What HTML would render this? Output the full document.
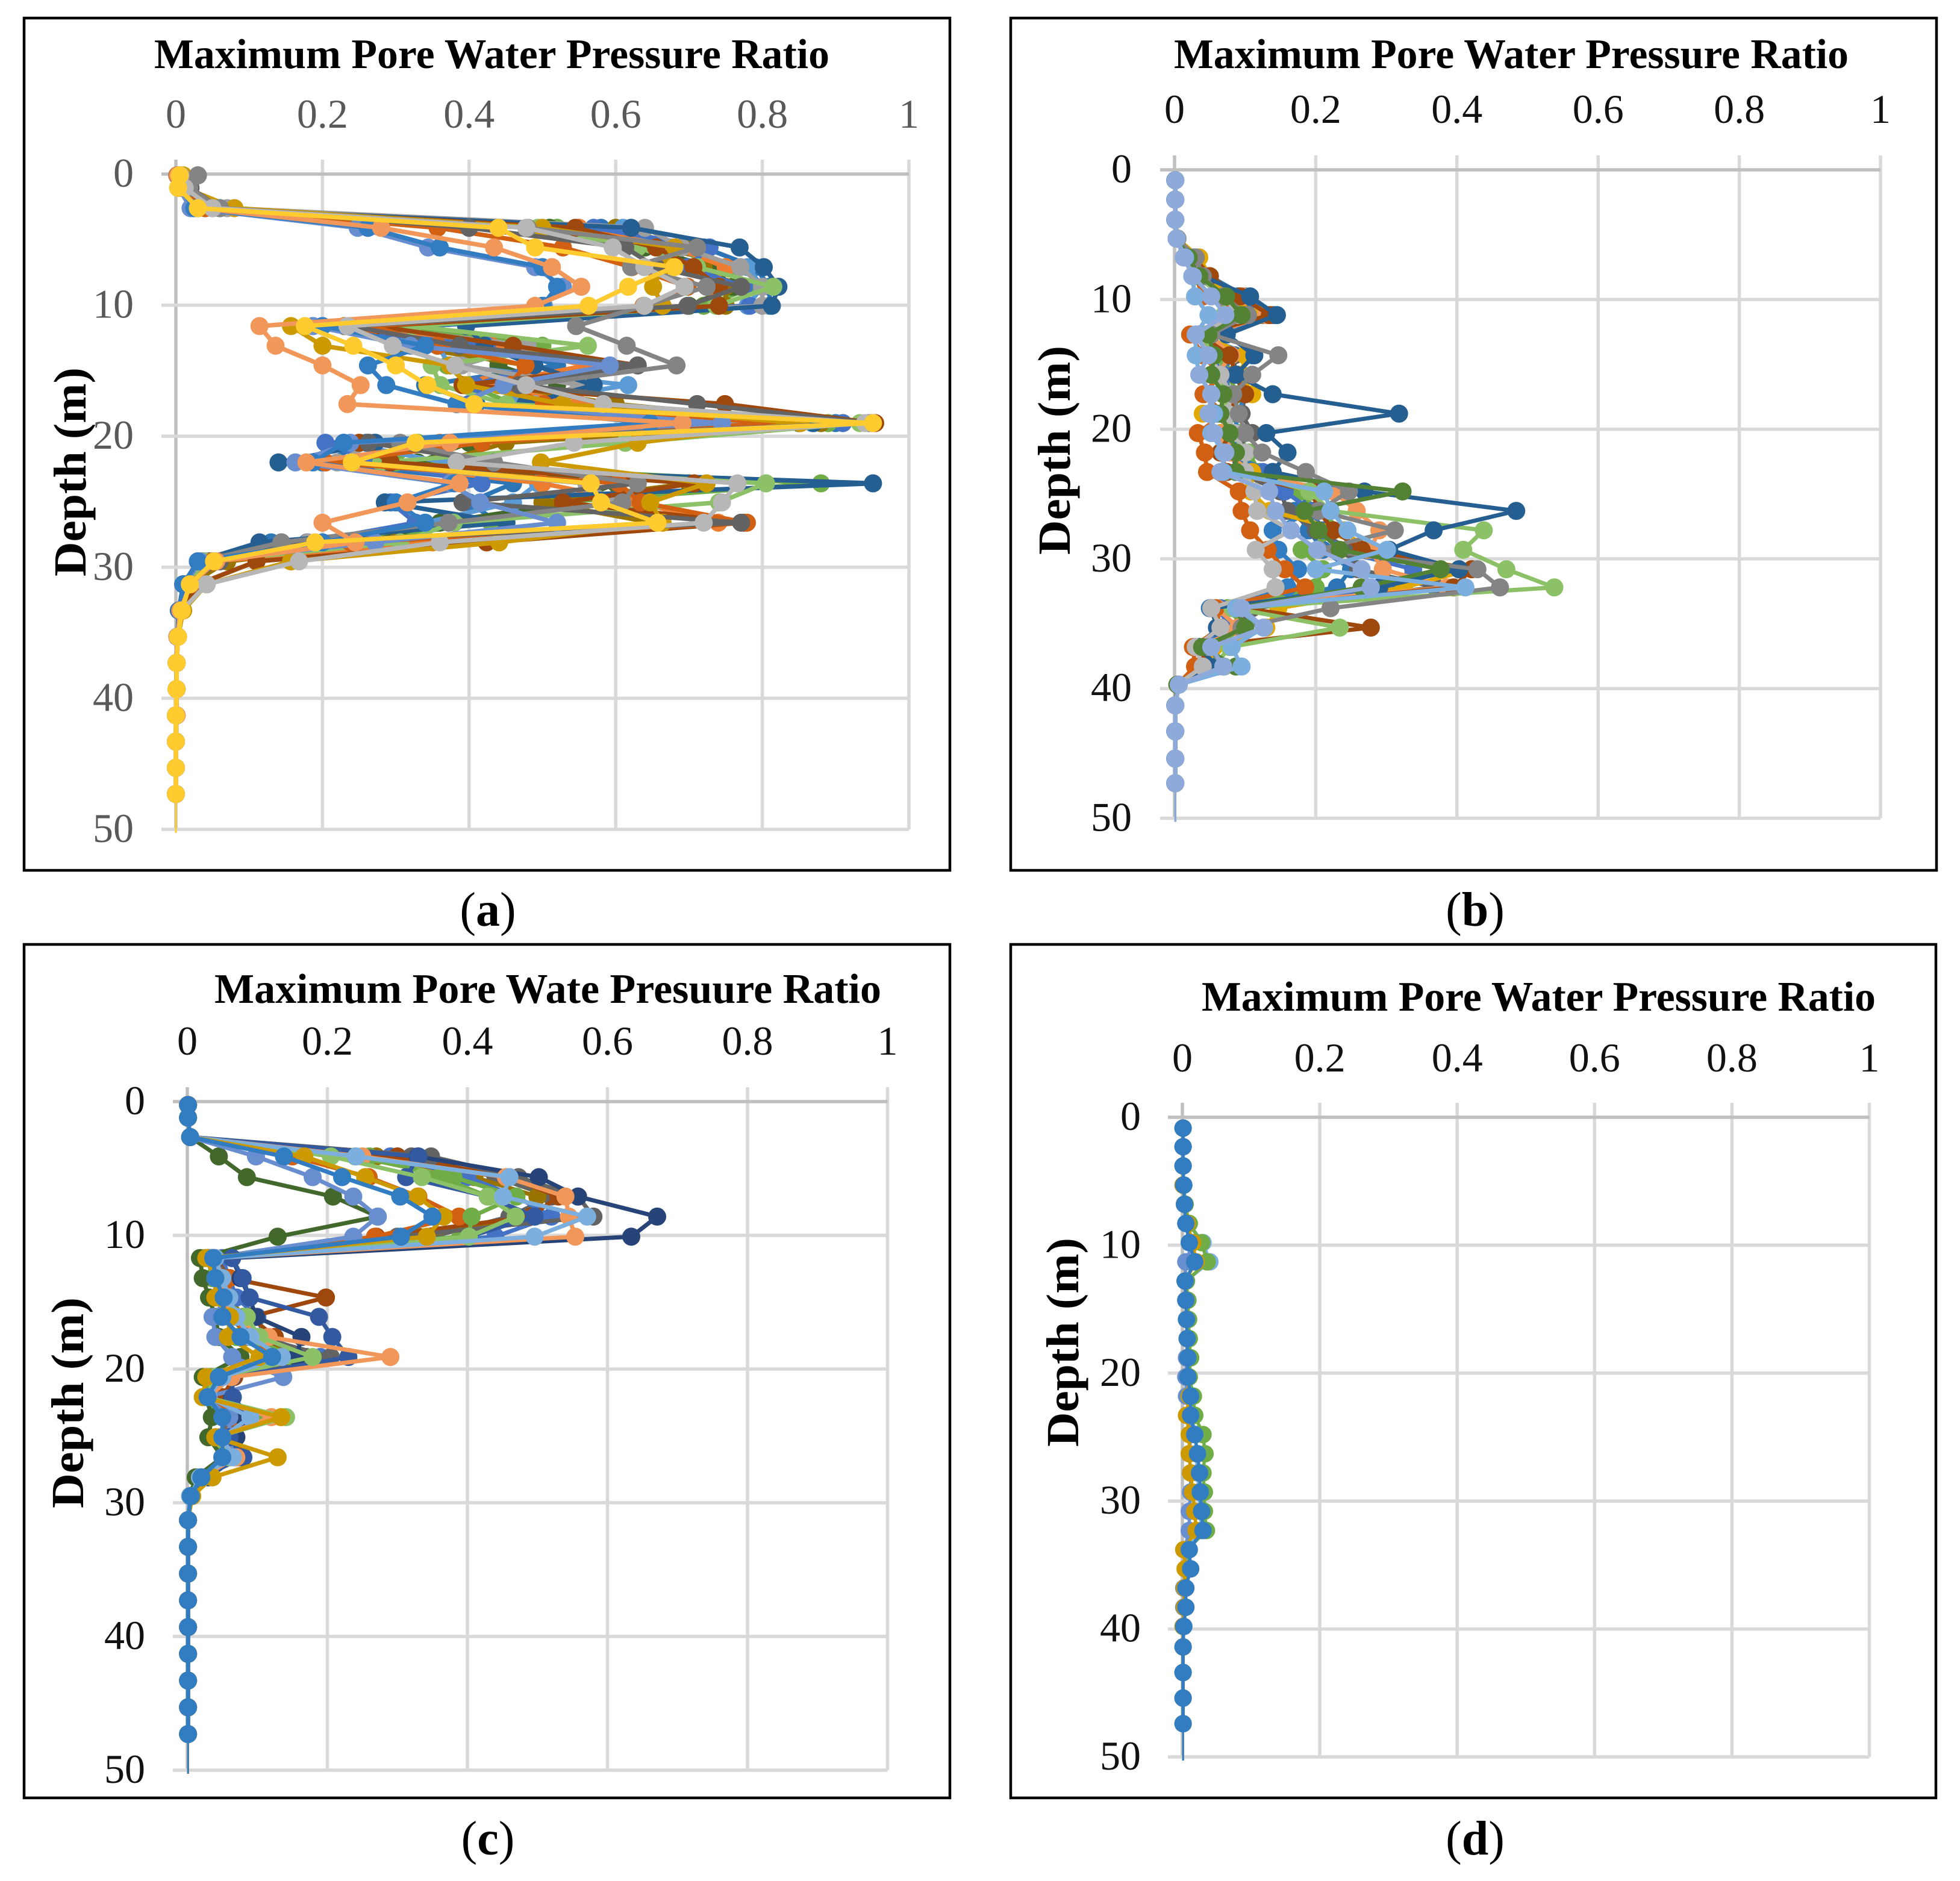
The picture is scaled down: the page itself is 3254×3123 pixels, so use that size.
<!DOCTYPE html>
<html lang="en">
<head>
<meta charset="utf-8">
<title>Maximum Pore Water Pressure Ratio vs Depth</title>
<style>
html,body{margin:0;padding:0;background:#fff}
svg{display:block}
text{font-family:"Liberation Serif",serif}
</style>
</head>
<body>
<svg id="figure" xmlns="http://www.w3.org/2000/svg" width="3254" height="3123" viewBox="0 0 3254 3123">
<rect width="3254" height="3123" fill="#fff"/>
<rect x="40" y="30" width="1537" height="1415" fill="none" stroke="#000" stroke-width="4.5"/>
<rect x="1678" y="30" width="1537" height="1415" fill="none" stroke="#000" stroke-width="4.5"/>
<rect x="40" y="1568" width="1537" height="1417" fill="none" stroke="#000" stroke-width="4.5"/>
<rect x="1678" y="1568" width="1536" height="1417" fill="none" stroke="#000" stroke-width="4.5"/>
<g id="plot-a"></g>
<g id="plot-b"></g>
<g id="plot-c"></g>
<g id="plot-d"></g>
<text x="256" y="113" font-size="70" font-weight="bold" textLength="1121" lengthAdjust="spacingAndGlyphs">Maximum Pore Water Pressure Ratio</text>
<text x="1949" y="113" font-size="70" font-weight="bold" textLength="1120" lengthAdjust="spacingAndGlyphs">Maximum Pore Water Pressure Ratio</text>
<text x="356" y="1665" font-size="70" font-weight="bold" textLength="1107" lengthAdjust="spacingAndGlyphs">Maximum Pore Wate Presuure Ratio</text>
<text x="1995" y="1678" font-size="70" font-weight="bold" textLength="1119" lengthAdjust="spacingAndGlyphs">Maximum Pore Water Pressure Ratio</text>
<text transform="translate(142 957) rotate(-90)" font-size="76" font-weight="bold" textLength="347" lengthAdjust="spacingAndGlyphs">Depth (m)</text>
<text transform="translate(1776 921) rotate(-90)" font-size="76" font-weight="bold" textLength="347" lengthAdjust="spacingAndGlyphs">Depth (m)</text>
<text transform="translate(138 2504) rotate(-90)" font-size="76" font-weight="bold" textLength="350" lengthAdjust="spacingAndGlyphs">Depth (m)</text>
<text transform="translate(1790 2402) rotate(-90)" font-size="76" font-weight="bold" textLength="347" lengthAdjust="spacingAndGlyphs">Depth (m)</text>
<text x="810" y="1537" font-size="80" text-anchor="middle">(<tspan font-weight="bold">a</tspan>)</text>
<text x="2449" y="1537" font-size="80" text-anchor="middle">(<tspan font-weight="bold">b</tspan>)</text>
<text x="810" y="3079" font-size="80" text-anchor="middle">(<tspan font-weight="bold">c</tspan>)</text>
<text x="2449" y="3079" font-size="80" text-anchor="middle">(<tspan font-weight="bold">d</tspan>)</text>
</svg>
<script>
const xTickLabels = [0, 0.2, 0.4, 0.6, 0.8, 1];
const yTickLabels = [0, 10, 20, 30, 40, 50];
const xMax = 1;
const yMax = 50;

/* ---------- Panel (a) ---------- */
const depthsA = [0.1,1.05,2.6,4.1,5.6,7.1,8.6,10.05,11.6,13.1,14.6,16.1,17.55,19,20.5,22,23.6,25.05,26.6,28.1,29.55,31.3,33.3,35.3,37.3,39.3,41.3,43.3,45.3,47.3];
const aSeries01 = [.003,.005,.025,.61,.665,.78,.8,.78,.2,.357,.374,.617,.46,.868,.229,.366,.494,.46,.34,.19,.037,.012,.005,.002,.001,.001,.001,0,0,0];
const aSeries02 = [.002,.004,.04,.55,.68,.75,.73,.74,.27,.43,.56,.42,.55,.82,.36,.25,.5,.63,.74,.35,.05,.02,.006,.002,.001,.001,0,0,0,0];
const aSeries03 = [.002,.004,.05,.57,.728,.698,.775,.783,.187,.424,.489,.408,.4,.91,.204,.272,.417,.293,.327,.179,.033,.012,.005,.002,.001,.001,.001,0,0,0];
const aSeries04 = [.004,.008,.07,.64,.69,.77,.8,.8,.26,.48,.39,.55,.49,.76,.27,.22,.56,.6,.38,.18,.04,.015,.006,.002,.001,.001,.001,0,0,0];
const aSeries05 = [.002,.003,.03,.621,.769,.802,.822,.813,.396,.421,.489,.57,.477,.87,.272,.14,.951,.285,.451,.114,.03,.01,.004,.002,.001,.001,0,0,0,0];
const aSeries06 = [.003,.006,.03,.494,.63,.711,.815,.737,.323,.562,.349,.361,.451,.933,.613,.28,.805,.741,.379,.306,.038,.015,.005,.002,.001,.001,0,0,0,0];
const aSeries07 = [.004,.006,.05,.545,.655,.706,.741,.741,.272,.46,.63,.391,.749,.954,.25,.293,.707,.528,.775,.424,.11,.03,.008,.003,.001,.001,0,0,0,0];
const aSeries08 = [.002,.005,.04,.357,.528,.622,.698,.638,.268,.357,.477,.455,.502,.809,.417,.204,.604,.634,.779,.238,.05,.02,.006,.002,.001,.001,0,0,0,0];
const aSeries09 = [.01,.012,.08,.5,.681,.664,.651,.664,.157,.2,.374,.396,.528,.852,.63,.498,.724,.647,.664,.441,.157,.042,.01,.003,.001,.001,.001,0,0,0];
const aSeries10 = [.03,.02,.06,.4,.613,.655,.771,.698,.238,.387,.63,.468,.711,.95,.263,.434,.63,.391,.771,.144,.06,.015,.006,.002,.001,.001,0,0,0,0];
const aSeries11 = [.03,.018,.06,.48,.711,.621,.724,.639,.546,.615,.683,.477,.583,.945,.306,.434,.63,.609,.372,.144,.033,.012,.005,.002,.001,.001,0,0,0,0];
const aSeries12 = [.003,.004,.02,.248,.344,.49,.528,.502,.187,.32,.592,.447,.383,.745,.238,.163,.374,.415,.52,.272,.033,.012,.005,.002,.001,.001,0,0,0,0];
const aSeries13 = [.004,.006,.025,.262,.36,.5,.52,.5,.2,.34,.262,.287,.383,.647,.229,.187,.38,.3,.34,.2,.03,.01,.005,.002,.001,.001,0,0,0,0];
const aSeries14 = [.003,.005,.03,.28,.434,.513,.553,.49,.114,.136,.2,.252,.234,.691,.374,.178,.387,.316,.2,.245,.055,.02,.006,.002,.001,.001,.001,0,0,0];
const aSeries15 = [.006,.012,.05,.478,.596,.639,.694,.639,.234,.296,.381,.478,.583,.94,.543,.383,.766,.745,.72,.36,.168,.042,.008,.003,.001,.001,0,0,0,0];
const aSeries16 = [.005,.003,.03,.44,.49,.68,.617,.563,.176,.242,.3,.343,.407,.951,.327,.24,.566,.58,.657,.19,.052,.019,.008,.003,.001,.001,0,0,0,0];
const aSeries17 = [.002,.004,.03,.58,.72,.79,.81,.81,.34,.44,.52,.34,.41,.9,.26,.2,.46,.4,.44,.13,.03,.01,.005,.002,.001,.001,.001,0,0,0];
const aSeries18 = [.002,.004,.03,.52,.68,.74,.79,.72,.31,.5,.37,.4,.46,.89,.33,.3,.88,.52,.43,.22,.04,.015,.005,.002,.001,.001,0,0,0,0];
const aSeries19 = [.003,.005,.04,.51,.64,.73,.76,.7,.25,.4,.44,.52,.5,.85,.4,.33,.6,.54,.36,.26,.045,.012,.005,.002,.001,.001,0,0,0,0];
const aSeries20 = [.004,.006,.06,.6,.7,.72,.75,.75,.23,.31,.48,.44,.6,.88,.45,.36,.7,.5,.65,.3,.07,.02,.006,.002,.001,.001,0,0,0,0];

/* ---------- Panel (b) ---------- */
const depthsB = [0.8,2.3,3.85,5.3,6.76,8.2,9.76,11.2,12.7,14.3,15.8,17.3,18.8,20.3,21.8,23.3,24.8,26.3,27.8,29.3,30.8,32.2,33.8,35.3,36.8,38.3,39.7,41.3,43.3,45.4,47.3];
const bSeries01 = [.001,.001,.001,.003,.03,.05,.09,.13,.03,.11,.09,.1,.09,.085,.07,.139,.156,.195,.139,.147,.175,.16,.052,.07,.03,.04,.005,.001,.001,.001,.001];
const bSeries02 = [.001,.001,.001,.003,.032,.05,.07,.1,.03,.05,.07,.08,.06,.08,.07,.125,.156,.195,.21,.23,.338,.3,.065,.075,.035,.05,.005,.001,.001,.001,.001];
const bSeries03 = [.001,.001,.001,.004,.035,.05,.074,.12,.04,.1,.095,.11,.04,.065,.07,.11,.108,.135,.239,.273,.421,.325,.147,.13,.056,.048,.005,.001,.001,.001,.001];
const bSeries04 = [.001,.001,.001,.003,.025,.045,.098,.13,.05,.08,.06,.07,.07,.07,.08,.1,.225,.258,.29,.277,.295,.386,.06,.09,.04,.05,.005,.001,.001,.001,.001];
const bSeries05 = [.001,.001,.001,.003,.028,.05,.093,.135,.035,.078,.087,.1,.069,.078,.065,.074,.195,.204,.225,.265,.421,.395,.1,.278,.03,.052,.004,.001,.001,.001,.001];
const bSeries06 = [.001,.001,.001,.003,.02,.03,.04,.1,.022,.04,.065,.041,.07,.033,.043,.046,.091,.095,.107,.132,.156,.185,.058,.065,.026,.029,.004,.001,.001,.001,.001];
const bSeries07 = [.001,.001,.001,.003,.02,.03,.07,.07,.04,.055,.057,.078,.069,.082,.101,.1,.191,.221,.438,.409,.47,.538,.082,.234,.078,.056,.006,.001,.001,.001,.001];
const bSeries08 = [.001,.001,.001,.004,.028,.04,.107,.145,.074,.113,.087,.139,.318,.13,.16,.139,.269,.484,.367,.304,.403,.29,.052,.06,.035,.06,.005,.001,.001,.001,.001];
const bSeries09 = [.001,.001,.001,.003,.022,.035,.07,.09,.03,.05,.065,.08,.075,.085,.1,.1,.113,.117,.165,.115,.139,.143,.052,.065,.03,.04,.004,.001,.001,.001,.001];
const bSeries10 = [.001,.001,.001,.004,.03,.04,.069,.104,.052,.147,.11,.083,.091,.1,.124,.186,.247,.204,.312,.204,.429,.461,.221,.095,.048,.069,.006,.001,.001,.001,.001];
const bSeries11 = [.001,.001,.001,.003,.02,.035,.073,.095,.048,.056,.052,.069,.065,.078,.087,.087,.323,.184,.204,.234,.377,.265,.087,.1,.039,.087,.004,.001,.001,.001,.001];
const bSeries12 = [.001,.001,.001,.003,.015,.025,.029,.048,.03,.03,.035,.052,.056,.052,.069,.069,.212,.221,.245,.301,.2,.412,.087,.126,.081,.095,.006,.001,.001,.001,.001];
const bSeries13 = [.001,.001,.001,.003,.013,.026,.052,.072,.03,.048,.035,.052,.048,.056,.072,.065,.134,.143,.165,.202,.265,.278,.095,.127,.052,.069,.006,.001,.001,.001,.001];
const bSeries14 = [.001,.001,.001,.003,.03,.05,.1,.14,.05,.08,.07,.08,.07,.08,.09,.115,.2,.17,.19,.21,.25,.23,.05,.07,.035,.045,.005,.001,.001,.001,.001];
const bSeries15 = [.001,.001,.001,.003,.025,.04,.08,.11,.035,.06,.075,.09,.085,.09,.105,.12,.18,.2,.24,.18,.21,.2,.075,.1,.05,.07,.005,.001,.001,.001,.001];
const bSeries16 = [.001,.001,.001,.004,.03,.05,.09,.125,.045,.085,.085,.1,.095,.11,.08,.09,.15,.16,.2,.25,.26,.37,.11,.09,.045,.06,.005,.001,.001,.001,.001];

/* ---------- Panel (c) ---------- */
const depthsC = [0.25,1.2,2.65,4.1,5.65,7.1,8.6,10.1,11.7,13.2,14.65,16.1,17.6,19.1,20.6,22.1,23.6,25.1,26.6,28.1,29.5,31.3,33.3,35.3,37.3,39.3,41.3,43.3,45.3,47.3];
const cSeries01 = [.001,.001,.004,.3,.46,.53,.49,.27,.04,.06,.198,.09,.125,.15,.067,.05,.08,.07,.08,.02,.004,.001,.001,.001,.001,.001,.001,.001,.001,.001];
const cSeries02 = [.001,.001,.004,.348,.473,.558,.58,.3,.036,.06,.06,.07,.1,.205,.04,.03,.07,.06,.06,.02,.004,.001,.001,.001,.001,.001,.001,.001,.001,.001];
const cSeries03 = [.001,.001,.004,.15,.259,.33,.388,.268,.03,.06,.06,.07,.08,.13,.05,.03,.07,.05,.07,.02,.004,.001,.001,.001,.001,.001,.001,.001,.001,.001];
const cSeries04 = [.001,.001,.004,.24,.38,.47,.406,.402,.025,.05,.055,.07,.09,.15,.03,.025,.05,.05,.06,.015,.004,.001,.001,.001,.001,.001,.001,.001,.001,.001];
const cSeries05 = [.001,.001,.004,.329,.502,.558,.671,.634,.064,.076,.089,.098,.163,.156,.064,.064,.08,.07,.07,.03,.005,.001,.001,.001,.001,.001,.001,.001,.001,.001];
const cSeries06 = [.001,.001,.004,.045,.085,.208,.272,.129,.018,.022,.031,.04,.045,.076,.022,.027,.035,.03,.05,.012,.004,.001,.001,.001,.001,.001,.001,.001,.001,.001];
const cSeries07 = [.001,.001,.004,.098,.179,.237,.272,.237,.032,.04,.058,.036,.04,.064,.137,.027,.06,.06,.065,.02,.004,.001,.001,.001,.001,.001,.001,.001,.001,.001];
const cSeries08 = [.001,.001,.004,.33,.3125,.429,.496,.402,.064,.079,.089,.188,.207,.23,.064,.065,.09,.06,.08,.02,.004,.001,.001,.001,.001,.001,.001,.001,.001,.001];
const cSeries09 = [.001,.001,.004,.25,.455,.54,.545,.554,.037,.045,.054,.063,.116,.29,.063,.03,.12,.045,.07,.02,.004,.001,.001,.001,.001,.001,.001,.001,.001,.001];
const cSeries10 = [.001,.001,.004,.205,.335,.429,.469,.402,.036,.04,.045,.085,.103,.179,.04,.027,.141,.04,.06,.018,.004,.001,.001,.001,.001,.001,.001,.001,.001,.001];
const cSeries11 = [.001,.001,.004,.241,.46,.451,.571,.496,.04,.05,.06,.07,.09,.135,.05,.03,.09,.05,.065,.018,.004,.001,.001,.001,.001,.001,.001,.001,.001,.001];
const cSeries12 = [.001,.001,.004,.167,.254,.329,.366,.342,.027,.04,.04,.061,.058,.103,.027,.022,.134,.04,.129,.036,.007,.001,.001,.001,.001,.001,.001,.001,.001,.001];
const cSeries13 = [.001,.001,.004,.138,.221,.304,.35,.305,.037,.04,.052,.05,.076,.121,.045,.029,.05,.05,.05,.02,.005,.001,.001,.001,.001,.001,.001,.001,.001,.001];
const cSeries14 = [.001,.001,.004,.32,.44,.52,.46,.35,.03,.05,.05,.06,.09,.17,.045,.03,.06,.05,.075,.02,.004,.001,.001,.001,.001,.001,.001,.001,.001,.001];
const cSeries15 = [.001,.001,.004,.27,.41,.5,.49,.33,.035,.045,.06,.08,.085,.16,.035,.03,.09,.045,.06,.02,.005,.001,.001,.001,.001,.001,.001,.001,.001,.001];
const cSeries16 = [.001,.001,.004,.29,.4,.47,.52,.44,.05,.06,.07,.1,.11,.19,.05,.04,.08,.06,.075,.02,.004,.001,.001,.001,.001,.001,.001,.001,.001,.001];
const cSeries17 = [.001,.001,.004,.26,.36,.43,.49,.39,.03,.035,.05,.08,.07,.14,.04,.03,.1,.04,.055,.015,.004,.001,.001,.001,.001,.001,.001,.001,.001,.001];

/* ---------- Panel (d) ---------- */
const depthsD = [0.85,2.3,3.8,5.3,6.8,8.3,9.8,11.3,12.8,14.3,15.8,17.3,18.8,20.3,21.8,23.3,24.8,26.3,27.8,29.3,30.8,32.3,33.8,35.3,36.8,38.3,39.8,41.4,43.4,45.4,47.4];
const dSeries01 = [.001,.001,.001,.002,.004,.009,.03,.04,.005,.006,.008,.009,.01,.008,.012,.012,.02,.02,.022,.024,.026,.028,.006,.01,.004,.004,.002,.001,.001,.001,.001];
const dSeries02 = [.001,.001,.001,.002,.004,.01,.028,.036,.006,.008,.009,.01,.012,.01,.016,.018,.03,.033,.03,.032,.032,.035,.007,.012,.004,.005,.002,.001,.001,.001,.001];
const dSeries03 = [.001,.001,.001,.001,.003,.006,.015,.005,.004,.005,.006,.007,.006,.005,.006,.01,.012,.01,.012,.012,.01,.01,.003,.005,.002,.002,.001,.001,.001,.001,.001];
const dSeries04 = [.001,.001,.001,.001,.003,.007,.015,.02,.004,.005,.006,.007,.008,.008,.01,.006,.01,.01,.012,.015,.018,.02,.002,.004,.003,.003,.001,.001,.001,.001,.001];
const dSeries05 = [.001,.001,.001,.002,.003,.005,.01,.018,.004,.005,.006,.007,.008,.008,.012,.012,.018,.022,.025,.026,.028,.03,.01,.012,.005,.005,.002,.001,.001,.001,.001];

const colorsA = ['#2E75B6','#70AD47','#43682B','#997300','#5B9BD5','#ED7D31','#4472C4','#9E9E9E','#255E91','#8CC168','#9E480E','#D26012','#CC9A00','#636363','#848484','#698ED0','#327DC2','#F1975A','#B7B7B7','#FFCB2F'];
const colorsB = ['#2E75B6','#70AD47','#636363','#327DC2','#4472C4','#E0A800','#F1975A','#9E480E','#D26012','#8CC168','#255E91','#B7B7B7','#848484','#548235','#7CAFDD','#8EAADB'];
const colorsC = ['#636363','#997300','#4472C4','#70AD47','#9E480E','#636363','#D26012','#70AD47','#264478','#43682B','#698ED0','#335AA1','#F1975A','#8CC168','#7CAFDD','#CC9A00','#327DC2'];
const colorsD = ['#7CAFDD','#70AD47','#698ED0','#CC9A00','#327DC2'];

const SVG_NS = 'http://www.w3.org/2000/svg';
function node(parent, tag, attrs) {
  const el = document.createElementNS(SVG_NS, tag);
  for (const k in attrs) el.setAttribute(k, attrs[k]);
  parent.appendChild(el);
  return el;
}

function drawPanel(p) {
  const root = document.getElementById(p.id);
  const sx = v => p.x0 + (v / xMax) * (p.x1 - p.x0);
  const sy = v => p.y0 + (v / yMax) * (p.y1 - p.y0);

  xTickLabels.forEach(function (t) {
    const g = node(root, 'line', {x1: sx(t), x2: sx(t), y1: p.y0 - 24, y2: sy(yMax), stroke: t === 0 ? '#BFBFBF' : '#D9D9D9', 'stroke-width': 5.5});
    
    
  });
  yTickLabels.forEach(function (t) {
    const g = node(root, 'line', {x1: p.x0 - 24, x2: sx(xMax), y1: sy(t), y2: sy(t), stroke: t === 0 ? '#BFBFBF' : '#D9D9D9', 'stroke-width': 5.5});
    
    
  });
  xTickLabels.forEach(function (t) {
    const l = node(root, 'text', {x: sx(t), y: p.xLabelY, 'font-size': 68, 'text-anchor': 'middle', fill: p.tickColor});
    l.textContent = String(t);
    
    
  });
  yTickLabels.forEach(function (t) {
    const l = node(root, 'text', {x: p.yLabelX, y: sy(t) + 21, 'font-size': 68, 'text-anchor': 'end', fill: p.tickColor});
    l.textContent = String(t);
    
    
  });

  p.series.forEach(function (vals, i) {
    const color = p.colors[i % p.colors.length];
    const g = node(root, 'g', {});
    
    
    const pts = vals.map(function (v, j) { return sx(v) + ',' + sy(p.depths[j]); });
    const line = node(g, 'polyline', {points: pts.join(' '), fill: 'none', stroke: color, 'stroke-width': p.lineWidth, 'stroke-linejoin': 'round'});
    
    
    const last = vals[vals.length - 1];
    const tail = node(g, 'line', {x1: sx(last), x2: sx(last), y1: sy(p.depths[vals.length - 1]), y2: sy(yMax) + 6, stroke: color, 'stroke-width': 3});
    
    
    vals.forEach(function (v, j) {
      const c = node(g, 'circle', {cx: sx(v), cy: sy(p.depths[j]), r: p.radius, fill: color});
      
      
    });
  });
}

drawPanel({id: 'plot-a', x0: 292, x1: 1509, y0: 289, y1: 1377, xLabelY: 212, yLabelX: 222, tickColor: '#595959', lineWidth: 7.5, radius: 15, depths: depthsA, colors: colorsA,
  series: [aSeries17, aSeries18, aSeries19, aSeries20, aSeries01, aSeries02, aSeries03, aSeries04, aSeries05, aSeries06, aSeries07, aSeries08, aSeries09, aSeries10, aSeries11, aSeries12, aSeries13, aSeries14, aSeries15, aSeries16]});
drawPanel({id: 'plot-b', x0: 1950, x1: 3122, y0: 282, y1: 1358.5, xLabelY: 204, yLabelX: 1879, tickColor: '#111', lineWidth: 7, radius: 15, depths: depthsB, colors: colorsB,
  series: [bSeries14, bSeries15, bSeries16, bSeries01, bSeries02, bSeries03, bSeries04, bSeries05, bSeries06, bSeries07, bSeries08, bSeries09, bSeries10, bSeries11, bSeries12, bSeries13]});
drawPanel({id: 'plot-c', x0: 311, x1: 1473.5, y0: 1829, y1: 2939, xLabelY: 1751, yLabelX: 241, tickColor: '#111', lineWidth: 7, radius: 15, depths: depthsC, colors: colorsC,
  series: [cSeries14, cSeries15, cSeries16, cSeries17, cSeries01, cSeries02, cSeries03, cSeries04, cSeries05, cSeries06, cSeries07, cSeries08, cSeries09, cSeries10, cSeries11, cSeries12, cSeries13]});
drawPanel({id: 'plot-d', x0: 1963, x1: 3103.5, y0: 1855, y1: 2917, xLabelY: 1779, yLabelX: 1894, tickColor: '#111', lineWidth: 5.5, radius: 14.5, depths: depthsD, colors: colorsD,
  series: [dSeries01, dSeries02, dSeries03, dSeries04, dSeries05]});
</script>
</body>
</html>
